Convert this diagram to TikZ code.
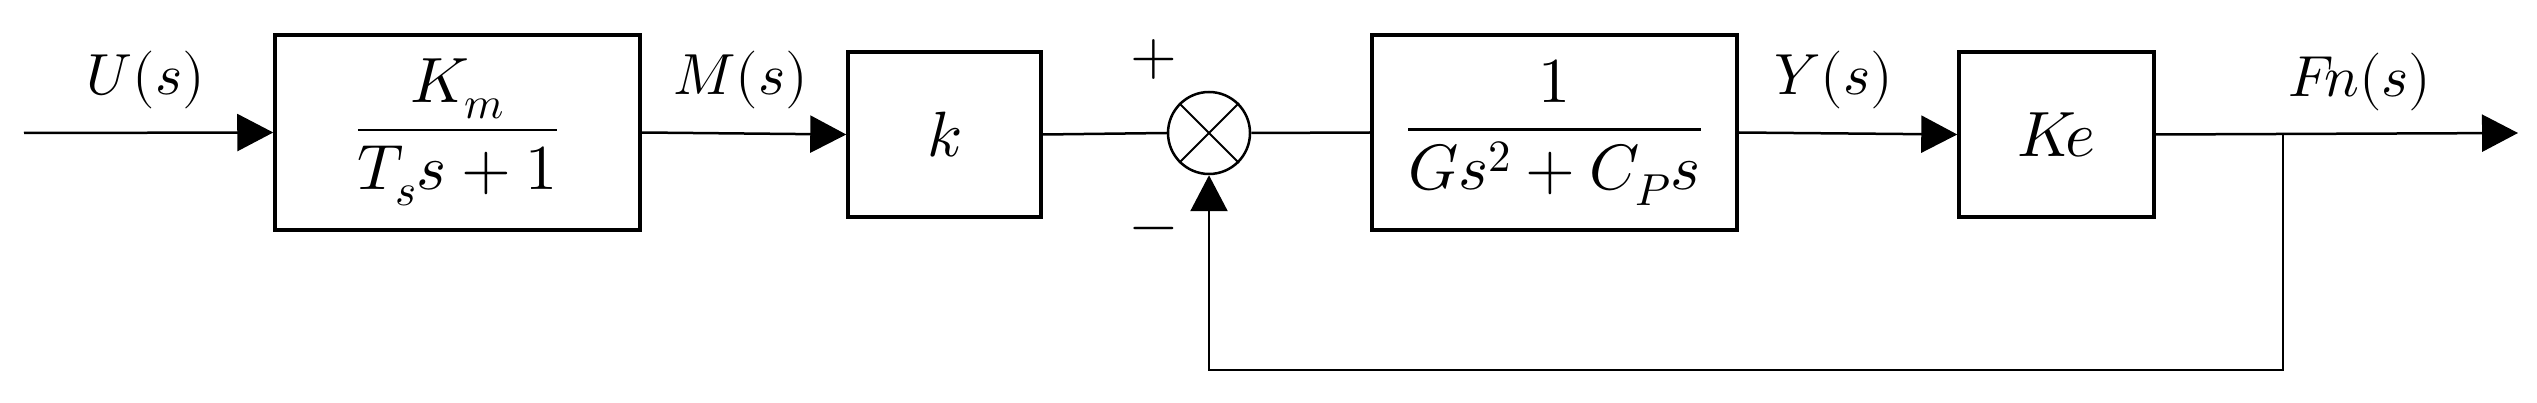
\documentclass[tikz,border=0pt]{standalone}
\usepackage{fontspec}
\usepackage{unicode-math}
\setmainfont{Liberation Serif}
\setmathfont{Latin Modern Math}
\usetikzlibrary{arrows.meta}
\begin{document}
\begin{tikzpicture}[x=1pt,y=-1pt,
  blk/.style={draw,line width=3.5pt,inner sep=0pt,font=\fontsize{64}{72}\selectfont},
  sig/.style={line width=2.5pt},
  arr/.style={sig,-{Triangle[length=36pt,width=37pt]}},
  lbl/.style={font=\fontsize{58}{64}\selectfont}]
\useasboundingbox (0,0) rectangle (2537,403);
\coordinate (in) at (24,133);
\node[blk,minimum width=365pt,minimum height=195pt] (b1) at (457.5,132.5) {$\dfrac{K_m}{T_s s+1}$};
\node[blk,minimum width=193pt,minimum height=165pt] (b2) at (944.5,134.5) {$k$};
\node[draw,circle,line width=2.5pt,minimum size=82pt,inner sep=0pt] (sum) at (1209,133) {};
\draw[line width=2pt] (sum.north east)--(sum.south west) (sum.north west)--(sum.south east);
\node[blk,minimum width=365pt,minimum height=195pt] (b3) at (1554.5,132.5) {$\dfrac{1}{Gs^2+C_P s}$};
\node[blk,minimum width=195pt,minimum height=165pt] (b4) at (2056.5,134.5) {$K\!e$};
\coordinate (br) at (2283,133);
\coordinate (out) at (2518,133);
\coordinate (fb1) at (2283,370);
\coordinate (fb2) at (1209,370);
\draw[arr] (in) -- (b1.west);
\draw[arr] (b1.east) -- (b2.west);
\draw[sig] (b2.east) -- (sum.west);
\draw[sig] (sum.east) -- (b3.west);
\draw[arr] (b3.east) -- (b4.west);
\draw[arr] (b4.east) -- (out);
\draw[arr] (br) -- (fb1) -- (fb2) -- (sum.south);
\node[lbl] (u) at (146,80) {$U(s)$};
\node[lbl] (m) at (741,80) {$M(s)$};
\node[lbl] (y) at (1834,80) {$Y(s)$};
\node[lbl] (f) at (2360,82) {$F\!n(s)$};
\node[font=\fontsize{60}{66}\selectfont] (p) at (1154,60) {$+$};
\node[font=\fontsize{60}{66}\selectfont] (n) at (1154,235) {$-$};
\end{tikzpicture}
\end{document}
